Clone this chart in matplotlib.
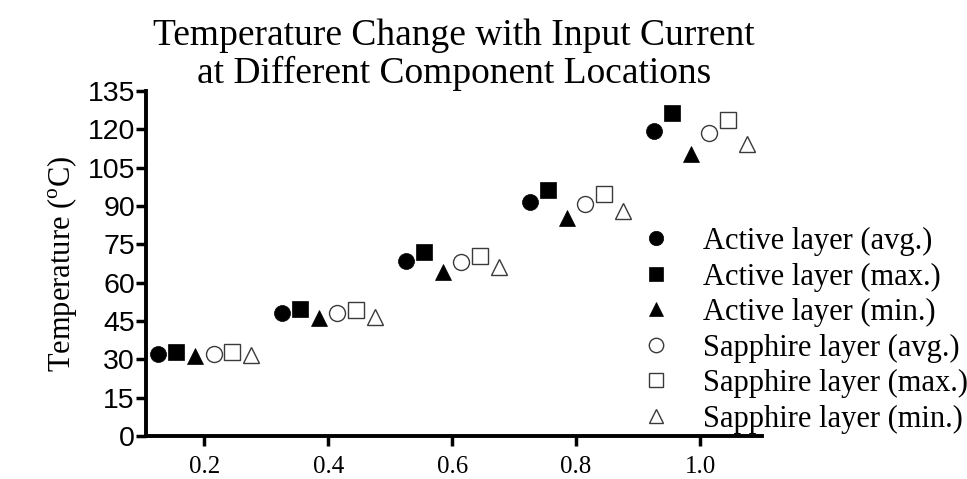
import matplotlib
matplotlib.use("Agg")
import matplotlib.pyplot as plt
import numpy as np

# ---- data ----
currents = [0.2, 0.4, 0.6, 0.8, 1.0]
active_avg = [32.2, 48.3, 68.5, 91.5, 119.2]
active_max = [32.7, 49.8, 71.9, 96.3, 126.4]
active_min = [31.4, 46.0, 64.3, 85.3, 110.3]
sapphire_avg = [32.2, 48.0, 68.2, 90.6, 118.4]
sapphire_max = [32.7, 49.3, 70.5, 94.5, 123.7]
sapphire_min = [31.7, 46.5, 66.0, 87.9, 114.2]

series_labels = ["Active layer (avg.)", "Active layer (max.)", "Active layer (min.)",
                 "Sapphire layer (avg.)", "Sapphire layer (max.)", "Sapphire layer (min.)"]
y_ticks = [0, 15, 30, 45, 60, 75, 90, 105, 120, 135]
x_ticks = [0.2, 0.4, 0.6, 0.8, 1.0]
x_ticklabels = ["0.2", "0.4", "0.6", "0.8", "1.0"]

serif = "Liberation Serif"
sans = "Liberation Sans"
plt.rcParams["mathtext.fontset"] = "custom"
plt.rcParams["mathtext.rm"] = serif

W, H = 967, 479
fig = plt.figure(figsize=(W / 100, H / 100), dpi=100)
ax_l, ax_r, ax_t, ax_b = 146, 762, 91, 436
ax = fig.add_axes([ax_l / W, 1 - ax_b / H, (ax_r - ax_l) / W, (ax_b - ax_t) / H])

series = [active_avg, active_max, active_min, sapphire_avg, sapphire_max, sapphire_min]
markers = ["o", "s", "^", "o", "s", "^"]
filled = [True, True, True, False, False, False]
dodge = np.linspace(-0.075, 0.075, 6)

cx = np.array(currents)
for vals, mk, fl, lab, dx in zip(series, markers, filled, series_labels, dodge):
    if fl:
        ax.plot(cx + dx, vals, linestyle="none", marker=mk, markersize=11.5,
                markerfacecolor="black", markeredgecolor="black", markeredgewidth=0.5,
                label=lab, clip_on=False)
    else:
        ax.plot(cx + dx, vals, linestyle="none", marker=mk, markersize=11.5,
                markerfacecolor="white", markeredgecolor="#3a3a3a", markeredgewidth=1.0,
                label=lab, clip_on=False)

ax.set_xlim(0.106, 1.1)
ax.set_ylim(0, 135)
ax.set_yticks(y_ticks)
ax.set_xticks(x_ticks)
ax.set_xticklabels(x_ticklabels, fontfamily=serif, fontsize=18)
ax.set_yticklabels([str(v) for v in y_ticks], fontfamily=sans, fontsize=20.5)

for s in ["top", "right"]:
    ax.spines[s].set_visible(False)
for s in ["left", "bottom"]:
    ax.spines[s].set_linewidth(2.8)
ax.tick_params(axis="y", length=7, width=2.5, pad=1)
ax.tick_params(axis="x", length=7, width=2.5, pad=7.5)

ax.set_ylabel("Temperature ($^{\\mathrm{o}}$C)", fontfamily=serif, fontsize=22)
ax.yaxis.set_label_coords((79 - ax_l) / (ax_r - ax_l), 0.5)

ax.set_title("Temperature Change with Input Current\nat Different Component Locations",
             fontfamily=serif, fontsize=27, linespacing=1.1, pad=1.0)

fs_leg = 22
px = fs_leg * 100 / 72
hl = 1.2
x0 = 656 - hl * px / 2
leg = ax.legend(loc="upper left", bbox_to_anchor=(x0 / W, 1 - 227 / H),
                bbox_transform=fig.transFigure, frameon=False, borderpad=0,
                borderaxespad=0, handlelength=hl, handletextpad=(703 - x0 - hl * px) / px,
                labelspacing=0.21, prop={"family": serif, "size": fs_leg}, markerscale=0.9)

fig.savefig("out.png", dpi=100)
